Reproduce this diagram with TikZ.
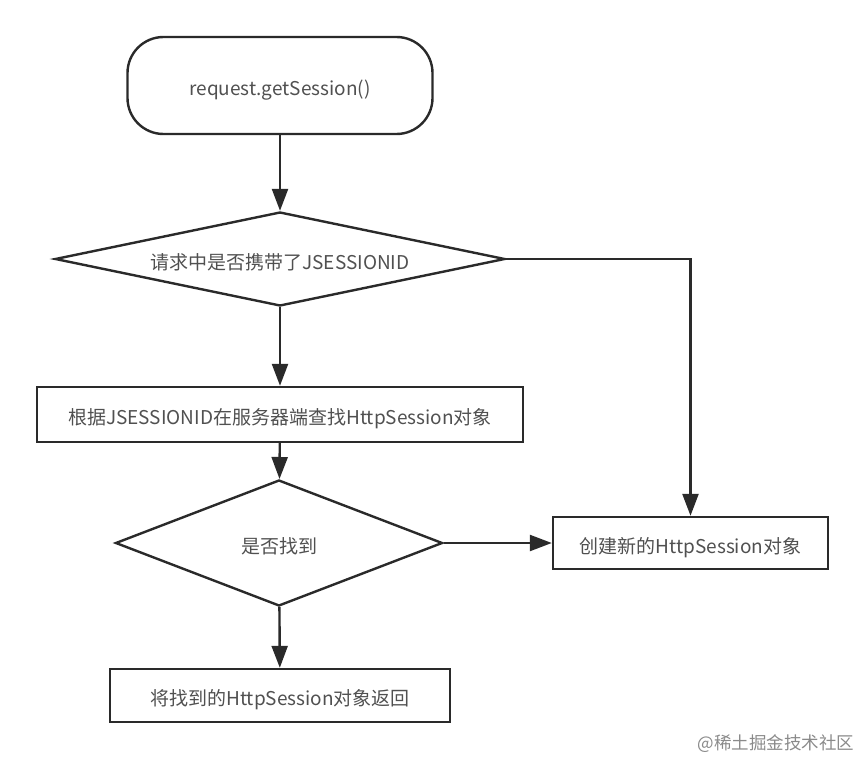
\documentclass[tikz,border=0pt]{standalone}
\usepackage{fontspec}
\setmainfont{Noto Sans CJK SC}
\newfontfamily\cjk{Noto Sans CJK SC}
\usetikzlibrary{shapes.geometric,arrows.meta}
\definecolor{linec}{HTML}{2A2A2A}
\definecolor{textc}{HTML}{505050}
\definecolor{wmark}{HTML}{8A8A8A}
\begin{document}
\begin{tikzpicture}[x=1pt,y=-1pt,
  every node/.style={text=textc,font=\cjk\fontsize{19}{22}\selectfont,text height=20pt,text depth=0pt},
  box/.style={draw=linec,line width=2.4pt,rectangle,inner sep=0pt},
  term/.style={box,rounded corners=36pt},
  dec/.style={draw=linec,line width=2.4pt,diamond,inner sep=0pt},
  flow/.style={draw=linec,line width=2.4pt,-{Triangle[length=22pt,width=16pt]}}]
\useasboundingbox (0,0) rectangle (865,760);
\node[term,minimum width=305pt,minimum height=97pt] (start) at (280,85.5) {request.getSession()};
\node[dec,aspect=4.8,minimum width=450pt,minimum height=94pt] (d1) at (280,259) {请求中是否携带了JSESSIONID};
\node[box,minimum width=486pt,minimum height=55pt] (find) at (280,414.5) {根据JSESSIONID在服务器端查找HttpSession对象};
\node[dec,aspect=2.6,minimum width=327pt,minimum height=126pt] (d2) at (279,543) {是否找到};
\node[box,minimum width=275pt,minimum height=52pt] (new) at (690.5,543) {创建新的HttpSession对象};
\node[box,minimum width=340pt,minimum height=53pt] (ret) at (280,695.5) {将找到的HttpSession对象返回};
\node[anchor=east,text=wmark,font=\cjk\fontsize{17.5}{20}\selectfont,text height=,text depth=] (wm) at (858,744) {@稀土掘金技术社区};
\draw[flow] (start) -- (d1);
\draw[flow] (d1) -- (find);
\draw[flow] (find) -- (d2);
\draw[flow] (d2) -- (new);
\draw[flow] (d2) -- (ret);
\draw[flow] (d1.east) -| (new.north);
\end{tikzpicture}
\end{document}
